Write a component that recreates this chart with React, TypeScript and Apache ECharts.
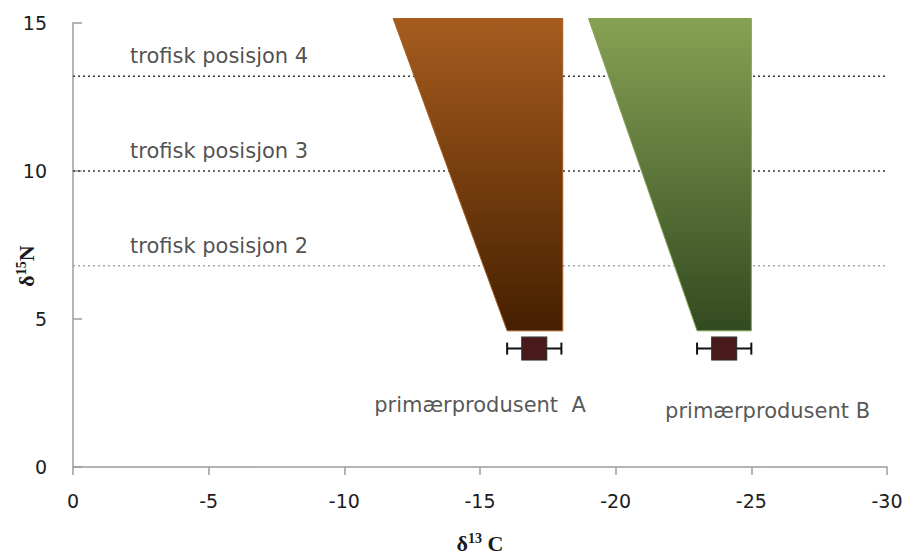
import React, { useEffect, useRef } from 'react';
import * as echarts from 'echarts';

// Axis ranges
const xMin = -30;
const xMax = 0;
const xInterval = 5;
const yMin = 0;
const yMax = 15;
const yInterval = 5;

// Trophic position reference lines (δ15N)
const trophicLevels = [6.8, 10, 13.2];
const trophicNames = ['trofisk posisjon 2', 'trofisk posisjon 3', 'trofisk posisjon 4'];
const trophicLabelC = -2.1;

// Primary producers (δ13C mean ± error, δ15N)
const producerNames = ['primærprodusent  A', 'primærprodusent B'];
const producerC = [-17, -24];
const producerN = [4, 4];
const producerErrC = [1, 1];
const producerLabelC = [-15.0, -25.6];
const producerLabelN = [2.1, 1.9];

// Consumer fans (trapezoids)
const fanTopInnerC = [-11.8, -19];
const fanTopOuterC = [-18.05, -25];
const fanBottomInnerC = [-16, -23];
const fanBottomOuterC = [-18.05, -25];
const fanTopN = [15.15, 15.15];
const fanBottomN = [4.6, 4.6];

const fanTopColors = ['#A75C1F', '#87A154'];
const fanBottomColors = ['#452000', '#324A20'];
const trophicColors = ['#a8a8a8', '#3a3a3a', '#3a3a3a'];

const FONT = 'DejaVu Sans';

export default function App() {
  const ref = useRef<HTMLDivElement>(null);

  useEffect(() => {
    if (!ref.current) return;
    const chart = echarts.init(ref.current, null, { renderer: 'svg' });

    const fanData = fanTopInnerC.map((_, i) => [
      fanTopInnerC[i],
      fanTopOuterC[i],
      fanBottomInnerC[i],
      fanBottomOuterC[i],
      fanTopN[i],
      fanBottomN[i],
      i,
    ]);

    const trophicSeries = trophicLevels.map((lv, i) => ({
      type: 'line',
      name: trophicNames[i],
      data: [
        [xMax, lv],
        [xMin, lv],
      ],
      symbol: 'none',
      silent: true,
      z: 1,
      lineStyle: { type: [2, 3], color: trophicColors[i], width: 1.5 },
    }));

    const option: any = {
      animation: false,
      grid: { left: 73, right: 20, top: 23, bottom: 88, containLabel: false, outerBoundsMode: 'none' },
      xAxis: {
        type: 'value',
        min: xMin,
        max: xMax,
        interval: xInterval,
        inverse: true,
        name: '{d|δ}{s|13}{d| C}',
        nameLocation: 'middle',
        nameGap: 64,
        nameTextStyle: {
          rich: {
            d: { fontFamily: 'Liberation Serif', fontWeight: 'bold', fontSize: 22, color: '#1a1a1a' },
            s: {
              fontFamily: 'Liberation Serif',
              fontWeight: 'bold',
              fontSize: 14,
              color: '#1a1a1a',
              verticalAlign: 'top',
              padding: [0, 0, 10, 0],
            },
          },
        },
        splitLine: { show: false },
        axisLine: { show: true, lineStyle: { color: '#9c9c9c', width: 1.5 } },
        axisTick: { show: true, inside: false, length: 8, lineStyle: { color: '#9c9c9c', width: 1.5 } },
        axisLabel: { margin: 24, fontFamily: FONT, fontSize: 19, color: '#1c1c1c' },
      },
      yAxis: {
        type: 'value',
        min: yMin,
        max: yMax,
        interval: yInterval,
        splitLine: { show: false },
        axisLine: { show: true, lineStyle: { color: '#9c9c9c', width: 1.5 } },
        axisTick: { show: true, inside: true, length: 9, lineStyle: { color: '#9c9c9c', width: 1.5 } },
        axisLabel: { margin: 26, fontFamily: FONT, fontSize: 19, color: '#1c1c1c' },
      },
      graphic: [
        {
          type: 'text',
          x: 26,
          y: 266,
          rotation: Math.PI / 2,
          style: {
            text: '{d|δ}{s|15}{d|N}',
            align: 'center',
            verticalAlign: 'middle',
            rich: {
              d: { fontFamily: 'Liberation Serif', fontWeight: 'bold', fontSize: 22, fill: '#1a1a1a' },
              s: { fontFamily: 'Liberation Serif', fontWeight: 'bold', fontSize: 14, fill: '#1a1a1a', padding: [0, 0, 9, 0] },
            },
          },
        },
      ],
      series: [
        ...trophicSeries,
        {
          type: 'custom',
          name: 'fans',
          data: fanData,
          encode: { x: [0, 1, 2, 3], y: [4, 5] },
          clip: false,
          z: 2,
          renderItem: (params: any, api: any) => {
            const i = api.value(6);
            const pts = [
              api.coord([api.value(0), api.value(4)]),
              api.coord([api.value(1), api.value(4)]),
              api.coord([api.value(3), api.value(5)]),
              api.coord([api.value(2), api.value(5)]),
            ];
            return {
              type: 'polygon',
              shape: { points: pts },
              style: {
                fill: new echarts.graphic.LinearGradient(0, 0, 0, 1, [
                  { offset: 0, color: fanTopColors[i] },
                  { offset: 1, color: fanBottomColors[i] },
                ]),
                stroke: fanTopColors[i],
                lineWidth: 1,
              },
            };
          },
        },
        {
          type: 'custom',
          name: 'errorbars',
          data: producerC.map((c, i) => [c, producerN[i], producerErrC[i]]),
          encode: { x: 0, y: 1 },
          z: 3,
          renderItem: (params: any, api: any) => {
            const c = api.value(0);
            const n = api.value(1);
            const e = api.value(2);
            const a = api.coord([c + e, n]);
            const b = api.coord([c - e, n]);
            const cap = 6;
            const st = { stroke: '#111', lineWidth: 2 };
            return {
              type: 'group',
              children: [
                { type: 'line', shape: { x1: a[0], y1: a[1], x2: b[0], y2: b[1] }, style: st },
                { type: 'line', shape: { x1: a[0], y1: a[1] - cap, x2: a[0], y2: a[1] + cap }, style: st },
                { type: 'line', shape: { x1: b[0], y1: b[1] - cap, x2: b[0], y2: b[1] + cap }, style: st },
              ],
            };
          },
        },
        {
          type: 'scatter',
          name: 'producers',
          data: producerC.map((c, i) => [c, producerN[i]]),
          symbol: 'rect',
          symbolSize: [25, 23],
          z: 4,
          itemStyle: { color: '#4A1A1A', borderColor: '#2c2c2c', borderWidth: 1, opacity: 1 },
        },
        {
          type: 'scatter',
          name: 'producerLabels',
          data: producerNames.map((n, i) => ({ name: n, value: [producerLabelC[i], producerLabelN[i]] })),
          symbolSize: 0,
          silent: true,
          z: 5,
          label: {
            show: true,
            position: 'inside',
            formatter: '{b}',
            fontFamily: FONT,
            fontSize: 21,
            color: '#2a2a2a',
          },
        },
        {
          type: 'scatter',
          name: 'trophicLabels',
          data: trophicNames.map((n, i) => ({ name: n, value: [trophicLabelC, trophicLevels[i]] })),
          symbolSize: 0,
          silent: true,
          z: 5,
          label: {
            show: true,
            position: 'right',
            distance: 0,
            offset: [0, -20],
            formatter: '{b}',
            fontFamily: FONT,
            fontSize: 21,
            color: '#222222',
          },
        },
      ],
    };

    chart.setOption(option);
    return () => chart.dispose();
  }, []);

  return (
    <div
      ref={ref}
      style={{ position: 'fixed', left: 0, top: 0, width: 907, height: 555, background: '#ffffff' }}
    />
  );
}
